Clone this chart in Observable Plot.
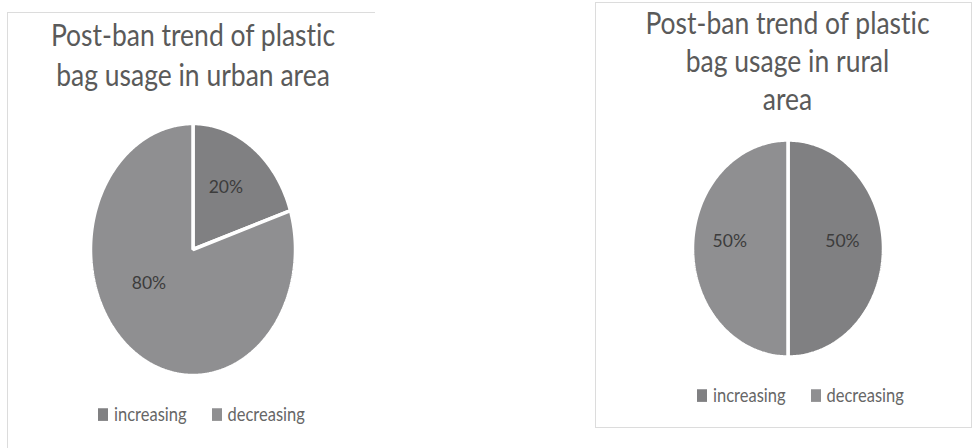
<!DOCTYPE html>
<html>
<head>
<meta charset="utf-8">
<script src="https://cdn.jsdelivr.net/npm/d3@7"></script>
<script src="https://cdn.jsdelivr.net/npm/@observablehq/plot@0.6"></script>
<style>
  html, body { margin: 0; padding: 0; background: #fff; }
  #root { position: relative; width: 972px; height: 448px; overflow: hidden; font-family: Lato, "Open Sans", sans-serif; font-variant-ligatures: none; }
  .panel { position: absolute; box-sizing: border-box; border: 1.5px solid #dcdcdc; }
  .title { position: absolute; text-align: center; color: #5a5a5a; font-size: 26.5px; transform: scaleY(1.2); transform-origin: center top; white-space: nowrap; }
  .legend { position: absolute; display: flex; align-items: center; color: #666666; font-size: 16.5px; transform: scaleY(1.15); }
  .sw { display: inline-block; width: 10px; height: 11px; margin-right: 6px; }
  .item { display: flex; align-items: center; margin-right: 25px; }
  .plotbox { position: absolute; }
</style>
</head>
<body>
<div id="root"></div>
<script>
// ---- data ----
const categories = ["increasing", "decreasing"];
const urbanValues = [20, 80];
const ruralValues = [50, 50];
const sliceColors = ["#808082", "#8f8f91"];
const urbanTitle = ["Post-ban trend of plastic", "bag usage in urban area"];
const ruralTitle = ["Post-ban trend of plastic", "bag usage in rural", "area"];

// ---- helpers ----
function slices(values) {
  const total = d3.sum(values);
  let acc = 0;
  return values.map((v, i) => {
    const a0 = acc / total * 2 * Math.PI;
    acc += v;
    const a1 = acc / total * 2 * Math.PI;
    const pts = [{x: 0, y: 0}];
    const n = Math.max(2, Math.ceil((a1 - a0) / (Math.PI / 180)));
    for (let k = 0; k <= n; k++) {
      const a = a0 + (a1 - a0) * k / n;
      pts.push({x: Math.sin(a), y: Math.cos(a)});
    }
    return {category: categories[i], value: v, pts};
  });
}

function piePlot(values, opts) {
  const s = slices(values);
  const marks = s.map((d, i) => Plot.line(d.pts, {
    x: "x", y: "y", curve: "linear-closed",
    fill: sliceColors[i], stroke: "#ffffff", strokeWidth: 3.5, strokeLinejoin: "miter"
  }));
  const labels = s.map((d, i) => ({x: opts.labelAt[i][0], y: opts.labelAt[i][1], text: d.value + "%"}));
  marks.push(Plot.text(labels, {
    x: "x", y: "y", text: "text", fill: "#3c3c3c", fontSize: 17.5,
    fontFamily: "Lato, 'Open Sans', sans-serif"
  }));
  return Plot.plot({
    width: opts.width, height: opts.height,
    margin: 0,
    x: {domain: [-1, 1], range: opts.xRange, axis: null},
    y: {domain: [-1, 1], range: opts.yRange, axis: null},
    marks
  });
}

function addTitle(root, lines, left, top, width, lineHeight) {
  const t = document.createElement("div");
  t.className = "title";
  t.style.left = left + "px"; t.style.top = top + "px"; t.style.width = width + "px";
  t.style.lineHeight = lineHeight + "px";
  t.innerHTML = lines.map(l => `<div>${l}</div>`).join("");
  root.appendChild(t);
}

function addLegend(root, left, top) {
  const lg = document.createElement("div");
  lg.className = "legend";
  lg.style.left = left + "px"; lg.style.top = top + "px";
  categories.forEach((c, i) => {
    const it = document.createElement("div");
    it.className = "item";
    it.innerHTML = `<span class="sw" style="background:${sliceColors[i]}"></span><span>${c}</span>`;
    lg.appendChild(it);
  });
  root.appendChild(lg);
}

// ---- layout ----
const root = document.getElementById("root");

const p1 = document.createElement("div");
p1.className = "panel";
Object.assign(p1.style, {left: "7px", top: "12px", width: "368px", height: "450px", borderRight: "none"});
root.appendChild(p1);

const p2 = document.createElement("div");
p2.className = "panel";
Object.assign(p2.style, {left: "595px", top: "2px", width: "377px", height: "426px"});
root.appendChild(p2);

addTitle(root, urbanTitle, 7, 15, 372, 32.5);
addTitle(root, ruralTitle, 595, 4, 385, 31.5);

const box1 = document.createElement("div");
box1.className = "plotbox";
Object.assign(box1.style, {left: "7px", top: "100px"});
box1.appendChild(piePlot(urbanValues, {
  width: 366, height: 300,
  xRange: [83, 288], yRange: [275, 23],
  labelAt: [[0.32, 0.49], [-0.43, -0.27]]
}));
root.appendChild(box1);

const box2 = document.createElement("div");
box2.className = "plotbox";
Object.assign(box2.style, {left: "595px", top: "110px"});
box2.appendChild(piePlot(ruralValues, {
  width: 375, height: 280,
  xRange: [97, 288], yRange: [246.5, 29.5],
  labelAt: [[0.57, 0.07], [-0.61, 0.07]]
}));
root.appendChild(box2);

addLegend(root, 98, 404);
addLegend(root, 697, 385);
</script>
</body>
</html>
